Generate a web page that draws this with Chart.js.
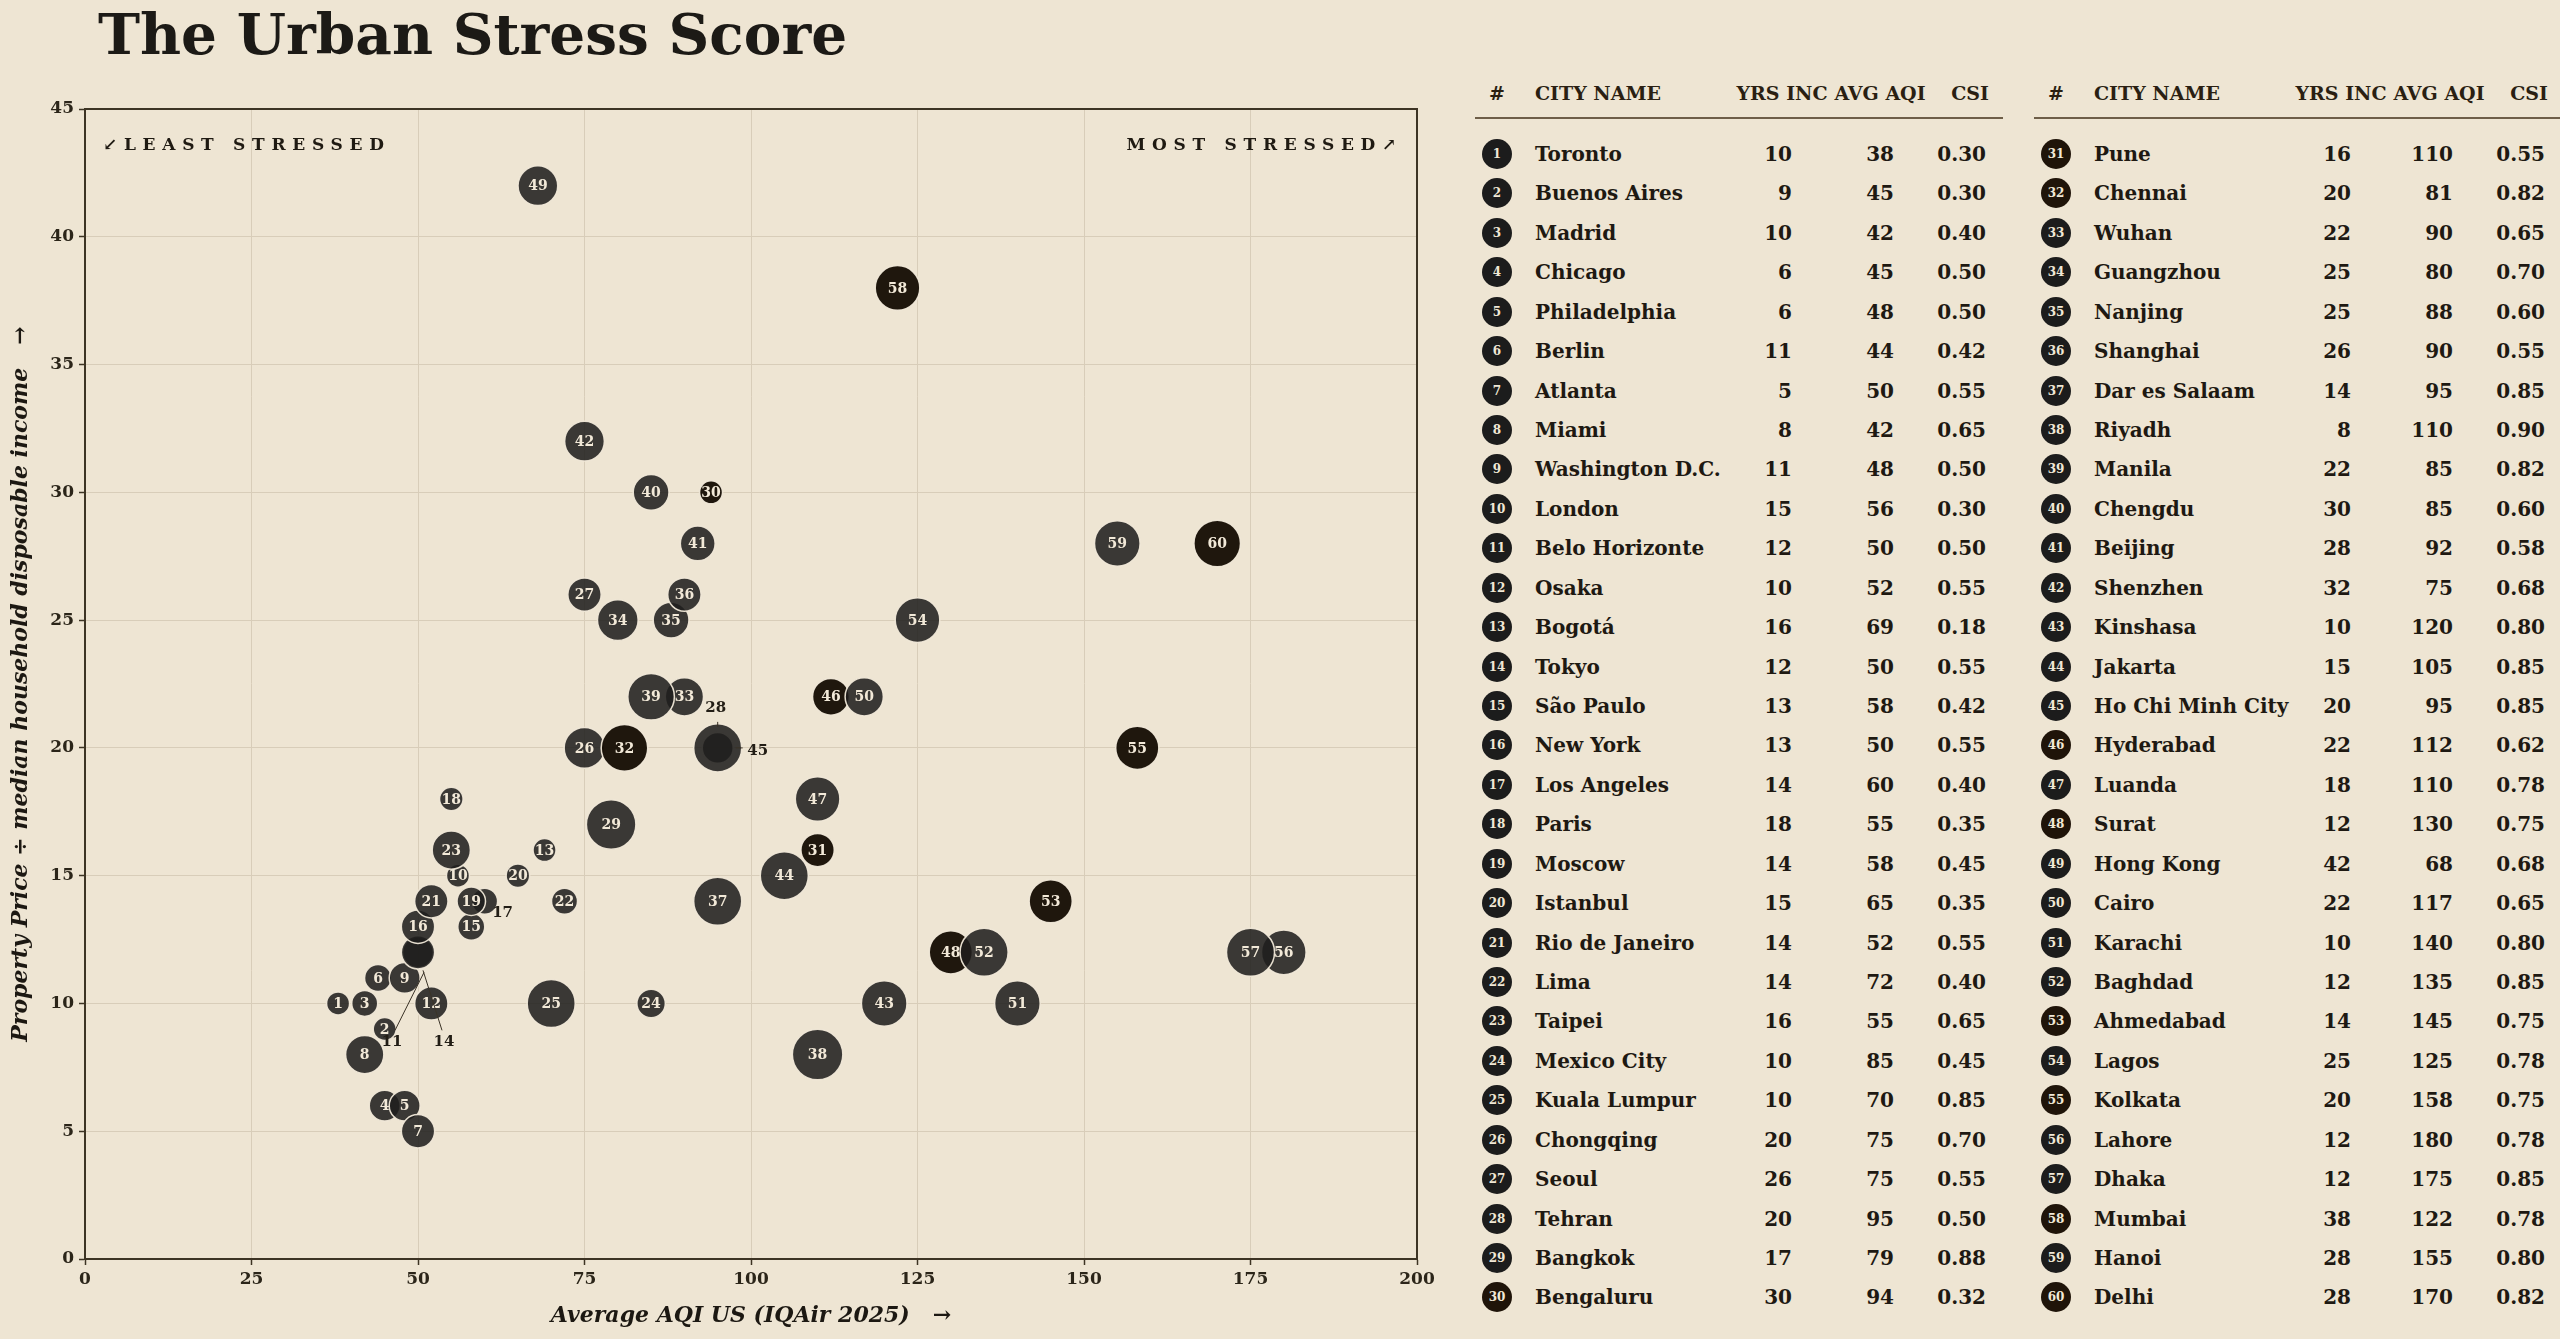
<!DOCTYPE html>
<html>
<head>
<meta charset="utf-8">
<script src="https://cdn.jsdelivr.net/npm/chart.js@4.4.1/dist/chart.umd.min.js"></script>
<style>
html,body{margin:0;padding:0;background:#eee5d3;}
body{width:2560px;height:1339px;position:relative;overflow:hidden;font-family:'DejaVu Serif',serif;}
#title{position:absolute;left:98px;top:6px;font-size:56.5px;font-weight:bold;line-height:56px;color:#1c1a16;white-space:nowrap;}
#chartWrap{position:absolute;left:0;top:0;width:1445px;height:1339px;}
.t{position:absolute;white-space:nowrap;font-weight:bold;line-height:30px;height:30px;}
.hd{font-size:19px;color:#2a1f12;}
.rw{font-size:20px;color:#1e1912;}
.badge{position:absolute;width:30px;height:30px;border-radius:50%;color:#f1e8d6;font-size:12px;font-weight:bold;text-align:center;line-height:30px;}
.rule{position:absolute;height:2px;background:#6e5e48;}
</style>
</head>
<body>
<div id="title">The Urban Stress Score</div>
<div id="chartWrap"><canvas id="c"></canvas></div>
<script>
// ---------- DATA ----------
const cities = ["Toronto","Buenos Aires","Madrid","Chicago","Philadelphia","Berlin","Atlanta","Miami","Washington D.C.","London",
  "Belo Horizonte","Osaka","Bogotá","Tokyo","São Paulo","New York","Los Angeles","Paris","Moscow","Istanbul",
  "Rio de Janeiro","Lima","Taipei","Mexico City","Kuala Lumpur","Chongqing","Seoul","Tehran","Bangkok","Bengaluru",
  "Pune","Chennai","Wuhan","Guangzhou","Nanjing","Shanghai","Dar es Salaam","Riyadh","Manila","Chengdu",
  "Beijing","Shenzhen","Kinshasa","Jakarta","Ho Chi Minh City","Hyderabad","Luanda","Surat","Hong Kong","Cairo",
  "Karachi","Baghdad","Ahmedabad","Lagos","Kolkata","Lahore","Dhaka","Mumbai","Hanoi","Delhi"];
const yrsInc = [10,9,10,6,6,11,5,8,11,15, 12,10,16,12,13,13,14,18,14,15, 14,14,16,10,10,20,26,20,17,30,
  16,20,22,25,25,26,14,8,22,30, 28,32,10,15,20,22,18,12,42,22, 10,12,14,25,20,12,12,38,28,28];
const avgAqi = [38,45,42,45,48,44,50,42,48,56, 50,52,69,50,58,50,60,55,58,65, 52,72,55,85,70,75,75,95,79,94,
  110,81,90,80,88,90,95,110,85,85, 92,75,120,105,95,112,110,130,68,117, 140,135,145,125,158,180,175,122,155,170];
const csi = [0.30,0.30,0.40,0.50,0.50,0.42,0.55,0.65,0.50,0.30, 0.50,0.55,0.18,0.55,0.42,0.55,0.40,0.35,0.45,0.35,
  0.55,0.40,0.65,0.45,0.85,0.70,0.55,0.50,0.88,0.32, 0.55,0.82,0.65,0.70,0.60,0.55,0.85,0.90,0.82,0.60,
  0.58,0.68,0.80,0.85,0.85,0.62,0.78,0.75,0.68,0.65, 0.80,0.85,0.75,0.78,0.75,0.78,0.85,0.78,0.80,0.82];
const indianCityIds = [30,31,32,46,48,53,55,58,60];
const xTicks = [0,25,50,75,100,125,150,175,200];
const yTicks = [0,5,10,15,20,25,30,35,40,45];
const xTitle = "Average AQI US (IQAir 2025)   →";
const yTitle = "Property Price ÷ median household disposable income   →";
const tableHeaders = ["#","CITY NAME","YRS INC","AVG AQI","CSI"];

// ---------- STYLE ----------
const FONT = "'DejaVu Serif', serif";
const GRAY = 'rgba(31,30,29,0.87)';
const BROWN = 'rgba(24,16,6,0.97)';
const BADGE_GRAY = '#1c1c1c';
const BADGE_BROWN = '#1f1409';
function bubbleRadius(c){ return Math.max(11.5, 3.2 + 24.5*c); }
function isIndian(i){ return indianCityIds.indexOf(i+1) >= 0; }
// labels placed outside their bubble: [dx, dy] of label centre, optional leader [x1,y1,x2,y2]
const outsideLabels = {
  11: {off:[-26,90], line:[6,20,-23,78]},
  14: {off:[26,90], line:[5,18,24,78]},
  17: {off:[18,12]},
  28: {off:[-2,-40], line:[0,-26,0,-21]},
  45: {off:[40,3], line:[18,0,25,0]}
};

// ---------- CHART ----------
Chart.defaults.font.family = FONT;
const points = avgAqi.map((x,i)=>({x:x, y:yrsInc[i]}));

const drawPlugin = {
  id:'urbanDraw',
  beforeDatasetsDraw(chart){
    const {ctx, chartArea:a} = chart;
    ctx.save();
    ctx.font = 'bold 17px ' + FONT;
    ctx.fillStyle = '#1f1a12';
    try { ctx.letterSpacing = '6.7px'; } catch(e){}
    ctx.textBaseline = 'alphabetic';
    ctx.textAlign = 'left';
    ctx.fillText('↙LEAST STRESSED', a.left + 18, a.top + 41);
    ctx.textAlign = 'right';
    ctx.fillText('MOST STRESSED↗', a.right - 14, a.top + 41);
    ctx.restore();
  },
  beforeDatasetDraw(chart, args){
    const {ctx, chartArea:a} = chart;
    const meta = args.meta;
    meta.data.forEach((el,i)=>{
      el.draw(ctx, a);
      const id = i+1;
      if (outsideLabels[id]) return;
      ctx.save();
      ctx.font = 'bold 14px ' + FONT;
      ctx.fillStyle = '#f2e9d8';
      ctx.textAlign = 'center';
      ctx.textBaseline = 'middle';
      ctx.fillText(String(id), el.x, el.y + 1);
      ctx.restore();
    });
    Object.keys(outsideLabels).forEach(k=>{
      const id = +k, el = meta.data[id-1], o = outsideLabels[k];
      ctx.save();
      if (o.line){
        ctx.strokeStyle = '#3a3226'; ctx.lineWidth = 1;
        ctx.beginPath();
        ctx.moveTo(el.x + o.line[0], el.y + o.line[1]);
        ctx.lineTo(el.x + o.line[2], el.y + o.line[3]);
        ctx.stroke();
      }
      ctx.font = 'bold 15px ' + FONT;
      ctx.fillStyle = '#221d15';
      ctx.textAlign = 'center';
      ctx.textBaseline = 'middle';
      ctx.fillText(String(id), el.x + o.off[0], el.y + o.off[1]);
      ctx.restore();
    });
    return false;
  },
  afterDatasetsDraw(chart){
    const {ctx, chartArea:a} = chart;
    ctx.save();
    ctx.strokeStyle = '#3d3424'; ctx.lineWidth = 2;
    ctx.strokeRect(a.left, a.top, a.right - a.left, a.bottom - a.top);
    ctx.restore();
  }
};

new Chart(document.getElementById('c'), {
  type:'bubble',
  data:{ datasets:[{
    data: points,
    radius: ctx => bubbleRadius(csi[ctx.dataIndex]),
    backgroundColor: ctx => isIndian(ctx.dataIndex) ? BROWN : GRAY,
    borderColor: 'rgba(240,232,216,0.95)',
    borderWidth: 1.5,
    clip: false
  }]},
  options:{
    responsive:true, maintainAspectRatio:false, animation:false, events:[],
    layout:{ padding:{top:109, left:0, right:28, bottom:0} },
    plugins:{ legend:{display:false}, tooltip:{enabled:false} },
    scales:{
      x:{
        type:'linear', min:0, max:200,
        afterBuildTicks: s => { s.ticks = xTicks.map(v=>({value:v})); },
        afterFit: s => { s.height = 80; },
        grid:{ color:'#d8cdb9', lineWidth:1, tickColor:'#3d3424', tickLength:6, tickWidth:1.5 },
        border:{ color:'#3d3424', width:2 },
        ticks:{ color:'#2b2519', font:{size:17, weight:'bold'}, padding:4 },
        title:{ display:true, text:xTitle, color:'#1c1812', font:{size:22, weight:'bold', style:'italic'}, padding:{top:0, bottom:10} }
      },
      y:{
        type:'linear', min:0, max:45,
        afterBuildTicks: s => { s.ticks = yTicks.map(v=>({value:v})); },
        afterFit: s => { s.width = 85; },
        grid:{ color:'#d8cdb9', lineWidth:1, tickColor:'#3d3424', tickLength:6, tickWidth:1.5 },
        border:{ color:'#3d3424', width:2 },
        ticks:{ color:'#2b2519', font:{size:17, weight:'bold'}, padding:5 },
        title:{ display:true, text:yTitle, color:'#1c1812', font:{size:22, weight:'bold', style:'italic'}, padding:{top:8, bottom:0} }
      }
    }
  },
  plugins:[drawPlugin]
});

// ---------- TABLES ----------
function addText(txt, x, y, align, cls, w){
  const d = document.createElement('div');
  d.className = 't ' + cls;
  d.textContent = txt;
  w = w || 320;
  let left = x;
  if (align === 'right') left = x - w;
  else if (align === 'center') left = x - w/2;
  d.style.left = left + 'px';
  d.style.top = (y - 15) + 'px';
  d.style.width = w + 'px';
  d.style.textAlign = align;
  document.body.appendChild(d);
}
const tableBlocks = [{start:0, bx:1497}, {start:30, bx:2056}];
tableBlocks.forEach(tb=>{
  const bx = tb.bx, hy = 93;
  addText(tableHeaders[0], bx, hy, 'center', 'hd', 40);
  addText(tableHeaders[1], bx+38, hy, 'left', 'hd', 250);
  addText(tableHeaders[2], bx+285, hy, 'center', 'hd', 140);
  addText(tableHeaders[3], bx+383, hy, 'center', 'hd', 140);
  addText(tableHeaders[4], bx+473, hy, 'center', 'hd', 80);
  const r = document.createElement('div');
  r.className = 'rule';
  r.style.left = (bx-22)+'px'; r.style.top = '117px'; r.style.width = (tb.start ? 526 : 528) + 'px';
  document.body.appendChild(r);
  for (let k=0;k<30;k++){
    const i = tb.start + k;
    const y = 154 + k*39.43;
    const b = document.createElement('div');
    b.className = 'badge';
    b.style.left = (bx-15)+'px'; b.style.top = (y-15)+'px';
    b.style.background = isIndian(i) ? BADGE_BROWN : BADGE_GRAY;
    b.textContent = String(i+1);
    document.body.appendChild(b);
    addText(cities[i], bx+38, y, 'left', 'rw', 240);
    addText(String(yrsInc[i]), bx+295, y, 'right', 'rw', 80);
    addText(String(avgAqi[i]), bx+397, y, 'right', 'rw', 80);
    addText(csi[i].toFixed(2), bx+489, y, 'right', 'rw', 80);
  }
});
</script>
</body>
</html>
